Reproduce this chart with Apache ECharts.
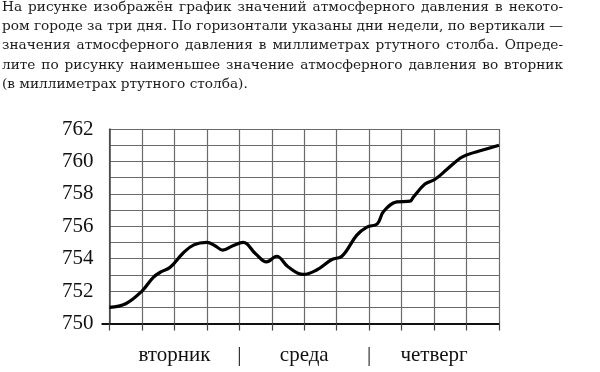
<!DOCTYPE html>
<html><head><meta charset="utf-8">
<script src="https://cdn.jsdelivr.net/npm/echarts@6/dist/echarts.min.js"></script>
<style>html,body{margin:0;padding:0;background:#fff}#c{width:600px;height:372px}</style>
</head><body><div id="c"></div>
<script>
const questionLines = [
  'На рисунке изображён график значений атмосферного давления в некото-',
  'ром городе за три дня. По горизонтали указаны дни недели, по вертикали —',
  'значения атмосферного давления в миллиметрах ртутного столба. Опреде-',
  'лите по рисунку наименьшее значение атмосферного давления во вторник',
  '(в миллиметрах ртутного столба).'
];
const xSteps = [0, 0.5, 1, 1.35, 1.6, 1.86, 2.27, 2.6, 3, 3.25, 3.49, 3.8, 4.12, 4.5, 4.84, 5.15, 5.5, 5.97, 6.38, 6.85, 7.16, 7.62, 7.93, 8.25, 8.44, 8.85, 9.26, 9.36, 9.72, 10.03, 10.39, 10.8, 11.0, 11.5, 12];
const pressure = [751.0, 751.22, 752.0, 752.85, 753.2, 753.45, 754.35, 754.85, 755.0, 754.8, 754.53, 754.8, 755.0, 754.3, 753.8, 754.15, 753.5, 753.03, 753.3, 753.95, 754.15, 755.45, 755.95, 756.15, 756.9, 757.5, 757.55, 757.8, 758.6, 758.9, 759.5, 760.2, 760.4, 760.7, 761.0];
const yTickLabels = [750, 752, 754, 756, 758, 760, 762];
const dayTicks = [2, 4, 6, 8, 10];
const dayLabels = ['вторник', '|', 'среда', '|', 'четверг'];

const FAMILY = '"Liberation Serif", "Times New Roman", serif';
const TFAMILY = '"DejaVu Serif", serif';
const ctx = document.createElement('canvas').getContext('2d');
ctx.font = '14px ' + TFAMILY;
const TEXT_SIZE = Math.min(15, 14 * 246 / ctx.measureText(questionLines[4]).width);
ctx.font = TEXT_SIZE + 'px ' + TFAMILY;

const graphics = [];
questionLines.forEach((line, i) => {
  const justify = i < questionLines.length - 1;
  const words = line.split(' ');
  const widths = words.map(w => ctx.measureText(w).width);
  const total = widths.reduce((a, b) => a + b, 0);
  const left = 2, right = 563;
  const gap = justify ? (right - left - total) / (words.length - 1) : ctx.measureText(' ').width;
  const baseline = 11.7 + 19.15 * i;
  let x = left;
  words.forEach((w, k) => {
    graphics.push({
      type: 'text', x: x, y: baseline - TEXT_SIZE * 0.3,
      style: { text: w, font: TEXT_SIZE + 'px ' + TFAMILY, fill: '#1a1a1a', verticalAlign: 'middle', align: 'left' }
    });
    x += widths[k] + gap;
  });
});

const chart = echarts.init(document.getElementById('c'), null, { renderer: 'canvas' });
chart.setOption({
  animation: false,
  backgroundColor: '#fff',
  graphic: graphics,
  grid: { left: 109.5, right: 101, top: 129, bottom: 48.5, show: false },
  xAxis: {
    type: 'value', min: 0, max: 12, interval: 1,
    axisLine: { show: true, onZero: false, lineStyle: { color: '#111', width: 2 } },
    axisTick: { show: true, length: 7, lineStyle: { color: '#444', width: 1.2 } },
    splitLine: { show: true, lineStyle: { color: '#6a6a6a', width: 1.2 } },
    axisLabel: {
      customValues: dayTicks,
      formatter: v => dayLabels[dayTicks.indexOf(v)],
      margin: 21, color: '#111', fontSize: 21, fontFamily: FAMILY
    }
  },
  yAxis: [{
    type: 'value', min: 750, max: 762, interval: 1,
    axisLine: { show: true, lineStyle: { color: '#444', width: 1.5 } },
    axisTick: { show: false },
    splitLine: { show: true, lineStyle: { color: '#6a6a6a', width: 1.2 } },
    axisLabel: {
      formatter: v => (yTickLabels.indexOf(v) >= 0 ? String(v) : ''),
      margin: 16, color: '#111', fontSize: 21, fontFamily: FAMILY
    }
  }, {
    type: 'value', min: 750, max: 762, interval: 12, position: 'left', offset: 0,
    axisLine: { show: true, lineStyle: { color: 'rgba(0,0,0,0)' } },
    axisTick: { show: true, customValues: [750], length: 8, lineStyle: { color: '#111', width: 2 } },
    splitLine: { show: false },
    axisLabel: { show: false }
  }],
  series: [{
    type: 'line',
    yAxisIndex: 0,
    data: xSteps.map((x, i) => [x, pressure[i]]),
    smooth: 0.4,
    showSymbol: false,
    lineStyle: { color: '#000', width: 3.2 }
  }]
});
</script></body></html>
